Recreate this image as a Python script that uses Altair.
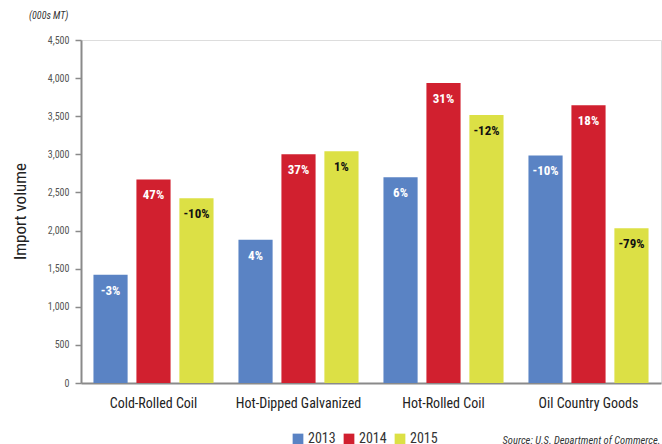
import altair as alt
import pandas as pd

categories = ["Cold-Rolled Coil", "Hot-Dipped Galvanized", "Hot-Rolled Coil", "Oil Country Goods"]
years = ["2013", "2014", "2015"]
v2013 = [1420, 1880, 2700, 2985]
v2014 = [2670, 3000, 3935, 3645]
v2015 = [2425, 3040, 3515, 2030]
p2013 = ["-3%", "4%", "6%", "-10%"]
p2014 = ["47%", "37%", "31%", "18%"]
p2015 = ["-10%", "1%", "-12%", "-79%"]
y_ticks = [0, 500, 1000, 1500, 2000, 2500, 3000, 3500, 4000, 4500]
colors = ["#5A83C4", "#D1202F", "#DCE045"]
text_colors = ["#FFFFFF", "#FFFFFF", "#111111"]

rows = []
for i, c in enumerate(categories):
    for y, vals, pcts, tc in zip(years, [v2013, v2014, v2015], [p2013, p2014, p2015], text_colors):
        rows.append({"cat": c, "year": y, "value": vals[i], "pct": pcts[i], "tc": tc})
df = pd.DataFrame(rows)

FONT = "Liberation Sans Narrow, Roboto Condensed, Roboto, sans-serif"

y_enc = alt.Y(
    "value:Q",
    scale=alt.Scale(domain=[0, 4500], nice=False),
    axis=alt.Axis(
        values=y_ticks,
        format=",.0f",
        labelOverlap=False,
        grid=False,
        title="Import volume",
        titleFont=FONT,
        titleFontSize=17,
        titleFontWeight="normal",
        titleColor="#222222",
        titleX=-61,
        titleY=171,
        titleAlign="center",
        titleBaseline="middle",
        titleAngle=-90,
        labelFont=FONT,
        labelFontSize=10,
        labelColor="#555555",
        labelPadding=6,
        tickSize=6,
        tickColor="#8A8A8A",
        tickWidth=1.5,
        domainColor="#8A8A8A",
        domainWidth=2,
    ),
)

base = alt.Chart(df).encode(
    x=alt.X(
        "cat:N",
        sort=categories,
        scale=alt.Scale(paddingInner=0, paddingOuter=0),
        axis=alt.Axis(
            title="Source: U.S. Department of Commerce.",
            titleFont=FONT,
            titleFontSize=10.5,
            titleFontStyle="italic",
            titleFontWeight="normal",
            titleColor="#333333",
            titleAnchor="end",
            titleAlign="right",
            titleX=579,
            titleY=57,
            titleBaseline="middle",
            labelAngle=0,
            labelFont=FONT,
            labelFontSize=14,
            labelColor="#222222",
            labelPadding=13,
            ticks=False,
            domainColor="#8A8A8A",
            domainWidth=2,
        ),
    ),
    xOffset=alt.XOffset("year:N", sort=years, scale=alt.Scale(paddingInner=0.205, paddingOuter=0.29)),
    y=y_enc,
)

bars = base.mark_bar().encode(
    color=alt.Color(
        "year:N",
        sort=years,
        scale=alt.Scale(domain=years, range=colors),
        legend=alt.Legend(
            title=None,
            orient="none",
            legendX=210,
            legendY=392,
            direction="horizontal",
            symbolType="square",
            symbolSize=115,
            symbolStrokeWidth=0,
            symbolOpacity=1,
            labelFont=FONT,
            labelFontSize=14,
            labelColor="#333333",
            labelOffset=3,
            columnPadding=6,
        ),
    ),
)

labels = base.mark_text(
    baseline="middle", dy=16, font=FONT, fontSize=13, fontWeight="bold"
).encode(
    text="pct:N",
    color=alt.Color("tc:N", scale=None),
)

chart = (
    alt.layer(bars, labels)
    .resolve_scale(color="independent")
    .properties(
        width=580,
        height=343,
        autosize=alt.AutoSizeParams(type="none"),
        padding={"left": 81, "top": 40, "right": 1, "bottom": 61},
        title=alt.TitleParams(
            text="(000s MT)",
            anchor="start",
            frame="group",
            dx=-52,
            offset=14,
            font=FONT,
            fontSize=10,
            fontStyle="italic",
            fontWeight="normal",
            color="#333333",
        ),
    )
    .configure_view(stroke=None)
    .configure(background="white")
)

chart.save("out.html", embed_options={"renderer": "svg", "actions": False})
